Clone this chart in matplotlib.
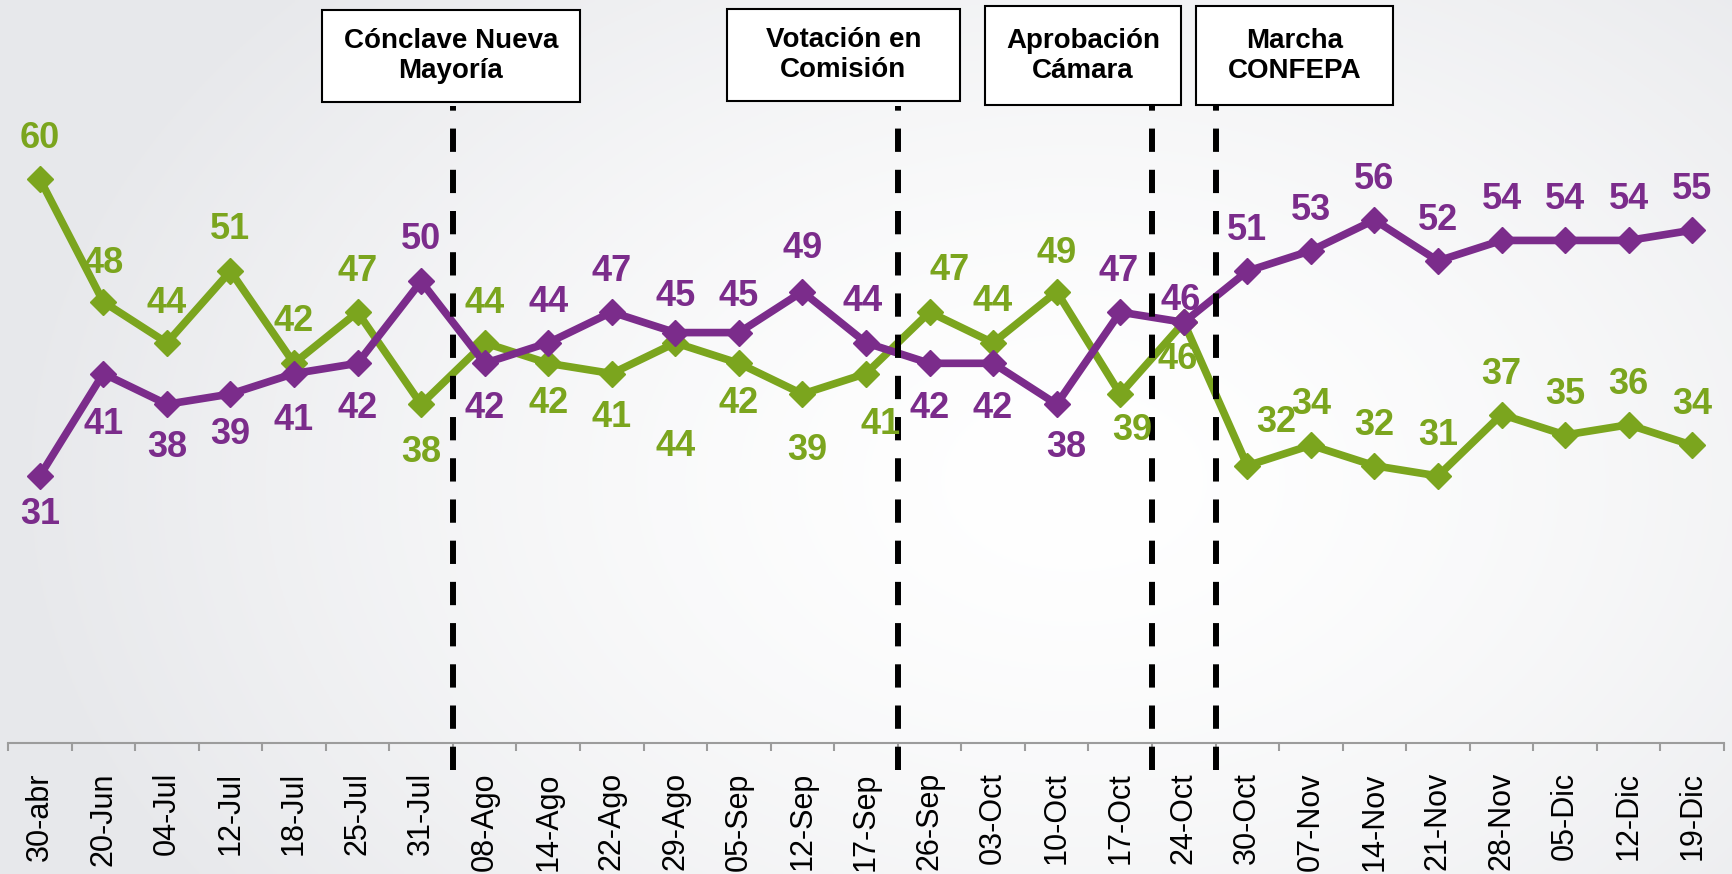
import numpy as np
import matplotlib.pyplot as plt
from matplotlib.patches import Rectangle
from matplotlib.transforms import blended_transform_factory

# datos
fechas = ['30-abr', '20-Jun', '04-Jul', '12-Jul', '18-Jul', '25-Jul', '31-Jul',
          '08-Ago', '14-Ago', '22-Ago', '29-Ago', '05-Sep', '12-Sep', '17-Sep',
          '26-Sep', '03-Oct', '10-Oct', '17-Oct', '24-Oct', '30-Oct', '07-Nov',
          '14-Nov', '21-Nov', '28-Nov', '05-Dic', '12-Dic', '19-Dic']
verde = [60, 48, 44, 51, 42, 47, 38, 44, 42, 41, 44, 42, 39, 41, 47, 44, 49, 39,
         46, 32, 34, 32, 31, 37, 35, 36, 34]
morado = [31, 41, 38, 39, 41, 42, 50, 42, 44, 47, 45, 45, 49, 44, 42, 42, 38, 47,
          46, 51, 53, 56, 52, 54, 54, 54, 55]

eventos = ['Cónclave Nueva\nMayoría', 'Votación en\nComisión',
           'Aprobación\nCámara', 'Marcha\nCONFEPA']
evento_x = [6.5, 13.5, 17.5, 18.5]
# cajas en pixeles (x0, x1, y0, y1) medidas desde arriba
cajas = [(322, 580, 10, 102), (727, 960, 9, 101),
         (985, 1181, 6, 105), (1196, 1393, 6, 105)]

# desplazamiento de etiquetas en px (dx, dy hacia arriba)
off_verde = [(0, 44), (0, 42), (0, 43), (0, 45), (0, 45), (0, 44), (0, -45),
             (0, 43), (0, -37), (0, -40), (0, -100), (0, -37), (5, -53),
             (15, -47), (20, 45), (0, 45), (0, 42), (12, -33), (-6, -34),
             (29, 47), (0, 44), (0, 44), (0, 44), (0, 44), (0, 44), (0, 44),
             (0, 44)]
off_morado = [(0, -35), (0, -47), (0, -40), (0, -37), (0, -43), (0, -42),
              (0, 45), (0, -42), (0, 44), (0, 44), (0, 40), (0, 40), (0, 47),
              (-3, 45), (0, -42), (0, -42), (10, -40), (-2, 44), (-3, 25),
              (0, 44), (0, 44), (0, 44), (0, 44), (0, 44), (0, 44), (0, 44),
              (0, 44)]

VERDE = '#7ba51e'
MORADO = '#7b2c8b'

plt.rcParams['font.family'] = ['Liberation Sans', 'DejaVu Sans']

W, H = 1733, 874
fig = plt.figure(figsize=(W / 100, H / 100), dpi=100)

# fondo con degradado radial
bg = fig.add_axes([0, 0, 1, 1], zorder=-10)
yy, xx = np.mgrid[0:1:300j, 0:1:600j]
r = np.sqrt(((xx - 0.62) / 0.62) ** 2 + ((yy - 0.55) / 0.85) ** 2)
t = np.clip(r, 0, 1) ** 1.5
edge = np.array([0.906, 0.910, 0.922])
img = 1 - (1 - edge)[None, None, :] * t[..., None]
bg.imshow(img, extent=[0, 1, 0, 1], aspect='auto', origin='upper')
bg.axis('off')

ax = fig.add_axes([8 / W, 1 - 743 / H, (1724 - 8) / W, 743 / H])
ax.patch.set_alpha(0)
x = np.arange(len(fechas))
ax.plot(x, verde, color=VERDE, lw=5.5, marker='D', ms=13, zorder=3)
ax.plot(x, morado, color=MORADO, lw=5.5, marker='D', ms=13, zorder=4)
ax.set_xlim(-0.5, len(fechas) - 0.5)
ax.set_ylim(4.92, 77.48)

for s in ['left', 'top', 'right']:
    ax.spines[s].set_visible(False)
ax.spines['bottom'].set_color('#9c9c9c')
ax.spines['bottom'].set_linewidth(1.5)
ax.set_yticks([])
ax.set_xticks(x)
ax.set_xticklabels(fechas, rotation=90, fontsize=22)
ax.tick_params(axis='x', which='major', length=0, pad=21)
ax.set_xticks(np.arange(-0.5, len(fechas)), minor=True)
ax.tick_params(axis='x', which='minor', length=6, width=1.5,
               color='#9c9c9c', direction='out')

# etiquetas de datos (baseline = centro - 13 px)
for serie, offs, col in [(verde, off_verde, VERDE), (morado, off_morado, MORADO)]:
    for i, v in enumerate(serie):
        dx, dy = offs[i]
        ax.annotate(str(v), (i, v), xytext=(dx * 0.72, (dy - 13) * 0.72),
                    textcoords='offset points', ha='center', va='baseline',
                    fontsize=26, fontweight='bold', color=col, zorder=6)

# lineas de eventos y cajas
tr = blended_transform_factory(ax.transData, fig.transFigure)
for xe in evento_x:
    ax.plot([xe, xe], [1 - 770 / H, 1 - 106 / H], transform=tr, color='black',
            lw=4.3, linestyle=(0, (3.9, 3.0)), clip_on=False, zorder=5)

for txt, (x0, x1, y0, y1) in zip(eventos, cajas):
    fig.add_artist(Rectangle((x0 / W, 1 - y1 / H), (x1 - x0) / W, (y1 - y0) / H,
                             transform=fig.transFigure, facecolor='white',
                             edgecolor='black', lw=1.5))
    fig.text((x0 + x1) / 2 / W, 1 - (y0 + y1) / 2 / H, txt, ha='center',
             va='center', fontsize=20, fontweight='bold', linespacing=1.2)

fig.savefig('out.png', dpi=100)
